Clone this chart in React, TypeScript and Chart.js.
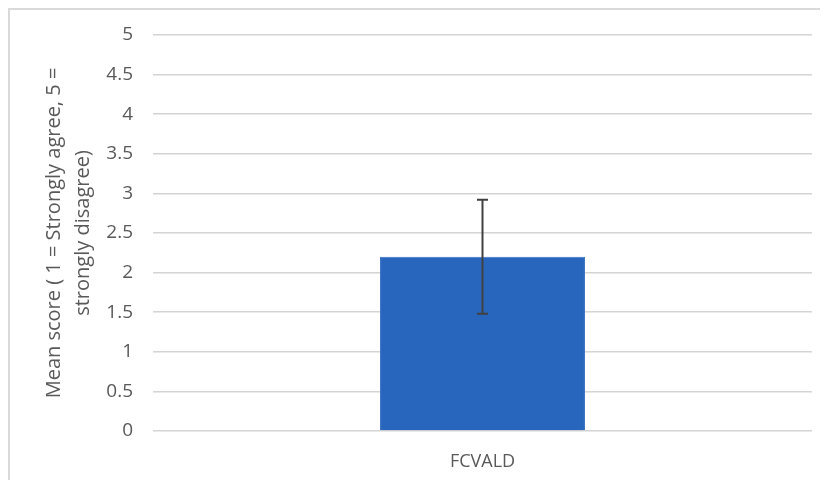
import React, { useEffect, useRef } from "react";
import { Chart, registerables } from "chart.js";

Chart.register(...registerables);

const categories = ["FCVALD"];
const meanScores = [2.2];
const errorLow = [1.48];
const errorHigh = [2.92];
const yMin = 0;
const yMax = 5;
const yStep = 0.5;
const yTitle = ["Mean score ( 1 = Strongly agree, 5 =", "strongly disagree)"];

const textColor = "#595959";
const fontFamily = "'Open Sans', 'Liberation Sans', sans-serif";

const errorBarPlugin = {
  id: "errorBars",
  afterDatasetsDraw(chart: any) {
    const { ctx } = chart;
    const yScale = chart.scales.y;
    const meta = chart.getDatasetMeta(0);
    ctx.save();
    ctx.strokeStyle = "#404040";
    ctx.lineWidth = 2;
    meta.data.forEach((bar: any, i: number) => {
      const x = bar.x;
      const yLo = yScale.getPixelForValue(errorLow[i]);
      const yHi = yScale.getPixelForValue(errorHigh[i]);
      const cap = 5.5;
      ctx.beginPath();
      ctx.moveTo(x, yLo);
      ctx.lineTo(x, yHi);
      ctx.moveTo(x - cap, yLo);
      ctx.lineTo(x + cap, yLo);
      ctx.moveTo(x - cap, yHi);
      ctx.lineTo(x + cap, yHi);
      ctx.stroke();
    });
    ctx.restore();
  },
};

export default function App() {
  const canvasRef = useRef<HTMLCanvasElement | null>(null);

  useEffect(() => {
    if (!canvasRef.current) return;
    const chart = new Chart(canvasRef.current, {
      type: "bar",
      data: {
        labels: categories,
        datasets: [
          {
            data: meanScores,
            backgroundColor: "#2866BD",
            borderColor: "#3A72C6",
            borderWidth: 1,
            barPercentage: 0.311,
            categoryPercentage: 1,
          },
        ],
      },
      options: {
        animation: false,
        responsive: false,
        maintainAspectRatio: false,
        layout: { padding: { top: 25, right: 16, bottom: 0, left: 0 } },
        plugins: {
          legend: { display: false },
          tooltip: { enabled: false },
        },
        scales: {
          x: {
            grid: { display: false, drawTicks: false },
            border: { display: false },
            ticks: {
              color: textColor,
              font: { family: fontFamily, size: 18 },
              padding: 20,
            },
            afterFit: (scale: any) => {
              scale.height = 49;
              scale.paddingLeft = 0;
              scale.paddingRight = 0;
            },
          },
          y: {
            min: yMin,
            max: yMax,
            ticks: {
              stepSize: yStep,
              color: textColor,
              font: { family: fontFamily, size: 19 },
              padding: 20,
              callback: (value: any) => String(Number(value)),
            },
            grid: { color: "#d4d4d4", lineWidth: 1.5, drawTicks: false },
            border: { display: false },
            title: {
              display: true,
              text: yTitle,
              color: textColor,
              font: { family: fontFamily, size: 20, lineHeight: 1.45 },
              padding: { top: 30, bottom: 0 },
            },
            afterFit: (scale: any) => {
              scale.width = 143;
              scale.paddingTop = 0;
              scale.paddingBottom = 0;
            },
          },
        },
      },
      plugins: [errorBarPlugin],
    });
    return () => chart.destroy();
  }, []);

  return (
    <div
      style={{
        width: 818,
        height: 470,
        borderLeft: "2px solid #d9d9d9",
        borderTop: "2px solid #d9d9d9",
        boxSizing: "content-box",
        background: "#fff",
      }}
    >
      <canvas ref={canvasRef} width={818} height={470} style={{ display: "block" }} />
    </div>
  );
}
